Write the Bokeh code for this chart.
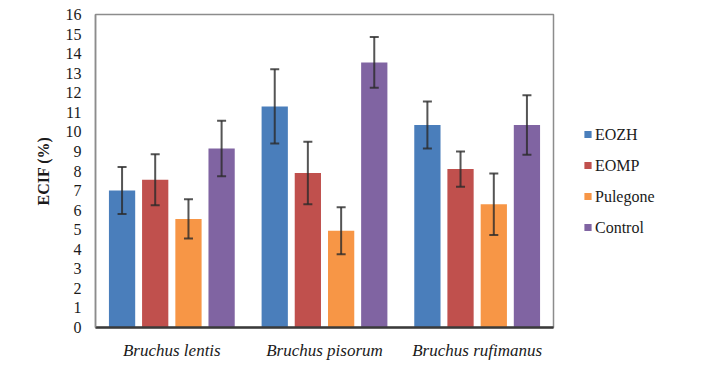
from bokeh.plotting import figure
from bokeh.models import ColumnDataSource, FactorRange, Range1d, Whisker, Legend, LegendItem, FixedTicker
from bokeh.transform import dodge
from bokeh.embed import file_html
from bokeh.resources import INLINE

species = ["Bruchus lentis", "Bruchus pisorum", "Bruchus rufimanus"]
series = ["EOZH", "EOMP", "Pulegone", "Control"]
eozh = [7.0, 11.3, 10.35]
eomp = [7.55, 7.9, 8.1]
pulegone = [5.55, 4.95, 6.3]
control = [9.15, 13.55, 10.35]
eozh_err = [1.2, 1.9, 1.2]
eomp_err = [1.3, 1.6, 0.9]
pulegone_err = [1.0, 1.2, 1.57]
control_err = [1.42, 1.3, 1.52]
y_ticks = list(range(0, 17))

values = [eozh, eomp, pulegone, control]
errors = [eozh_err, eomp_err, pulegone_err, control_err]
colors = ["#4a7ebb", "#c0504d", "#f79646", "#8064a2"]
offsets = [-0.326, -0.109, 0.109, 0.326]
SERIF = "'Liberation Serif', 'Times New Roman', serif"

p = figure(x_range=FactorRange(*species), y_range=Range1d(0, 16),
           frame_width=458, frame_height=313, output_backend="svg", toolbar_location=None,
           min_border_left=95, min_border_right=10, min_border_top=14, min_border_bottom=31)
p.xgrid.grid_line_color = None
p.ygrid.grid_line_color = None
p.outline_line_color = "#8c8c8c"
p.outline_line_width = 1.5
p.background_fill_color = "white"
p.border_fill_color = "white"
p.x_range.range_padding = 0.0

items = []
for name, vals, errs, col, off in zip(series, values, errors, colors, offsets):
    src = ColumnDataSource(dict(x=species, top=vals,
                                upper=[v + e for v, e in zip(vals, errs)],
                                lower=[v - e for v, e in zip(vals, errs)]))
    r = p.vbar(x=dodge("x", off, range=p.x_range), top="top", width=0.172,
               source=src, fill_color=col, line_color=None)
    w = Whisker(base=dodge("x", off, range=p.x_range), upper="upper", lower="lower",
                source=src, line_color="#2b2b2b", line_width=2, line_alpha=0.8,
                level="overlay")
    w.upper_head.size = 9
    w.lower_head.size = 9
    w.upper_head.line_color = "#2b2b2b"
    w.lower_head.line_color = "#2b2b2b"
    w.upper_head.line_width = 2
    w.lower_head.line_width = 2
    w.upper_head.line_alpha = 0.8
    w.lower_head.line_alpha = 0.8
    p.add_layout(w)
    items.append(LegendItem(label=name, renderers=[r]))

legend = Legend(items=items, location="center_left", glyph_width=9, glyph_height=9,
                spacing=13, label_standoff=3,
                border_line_color=None, background_fill_alpha=0, padding=0, margin=30)
legend.label_text_font = SERIF
legend.label_text_font_size = "16px"
legend.label_text_color = "#1a1a1a"
legend.title = " "
legend.title_text_font_size = "12px"
legend.title_standoff = 6
p.add_layout(legend, "right")

p.yaxis.ticker = FixedTicker(ticks=y_ticks)
p.yaxis.major_tick_line_color = None
p.yaxis.minor_tick_line_color = None
p.yaxis.axis_line_color = "#8c8c8c"
p.yaxis.axis_line_width = 1.5
p.yaxis.major_label_text_font = SERIF
p.yaxis.major_label_text_font_size = "16px"
p.yaxis.major_label_text_color = "#1a1a1a"
p.yaxis.major_label_standoff = 8
p.yaxis.axis_label = "ECIF (%)"
p.yaxis.axis_label_text_font = SERIF
p.yaxis.axis_label_text_font_style = "bold"
p.yaxis.axis_label_text_font_size = "16px"
p.yaxis.axis_label_text_color = "#1a1a1a"
p.yaxis.axis_label_standoff = 11

p.xaxis.major_tick_line_color = None
p.xaxis.minor_tick_line_color = None
p.xaxis.axis_line_color = "#3a3a3a"
p.xaxis.axis_line_width = 2.5
p.xaxis.major_label_text_font = SERIF
p.xaxis.major_label_text_font_style = "italic"
p.xaxis.major_label_text_font_size = "17px"
p.xaxis.major_label_text_color = "#1a1a1a"
p.xaxis.major_label_standoff = 7

open("out.html", "w").write(file_html(p, INLINE))
